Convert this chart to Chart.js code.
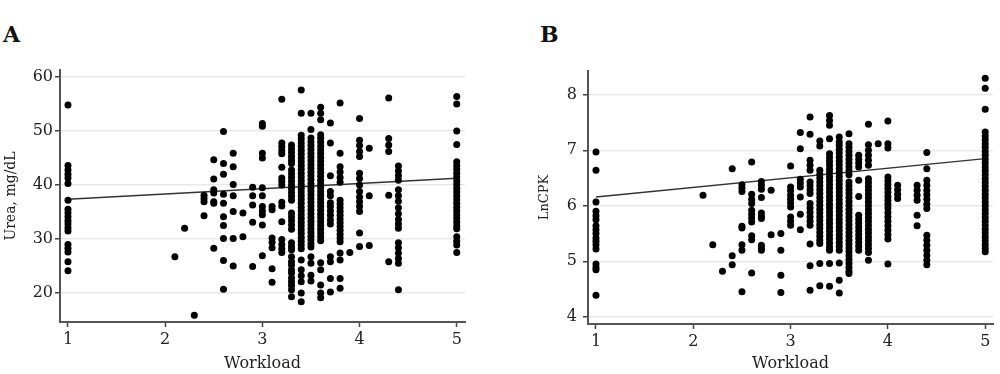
<!DOCTYPE html>
<html>
<head>
<meta charset="utf-8">
<script src="https://cdn.jsdelivr.net/npm/chart.js@4.4.0/dist/chart.umd.min.js"></script>
<style>
    body { margin: 0; background: #fff; width: 1000px; height: 374px; position: relative; overflow: hidden; }
    canvas { position: absolute; top: 0; }
    .panel-label { position: absolute; font-family: "DejaVu Serif", serif; font-weight: bold; font-size: 22px; color: #111; }
</style>
</head>
<body>
<div class="panel-label" style="left:3px; top:21px;">A</div>
<div class="panel-label" style="left:540px; top:21px;">B</div>
<canvas id="chartA" width="500" height="374" style="left:0"></canvas>
<canvas id="chartB" width="500" height="374" style="left:500px"></canvas>
<script>
// workload levels (x), shared by both panels
const workloadLevels = [1, 2.1, 2.2, 2.3, 2.4, 2.5, 2.6, 2.7, 2.8, 2.9, 3, 3.1, 3.2, 3.3, 3.4, 3.5, 3.6, 3.7, 3.8, 3.9, 4, 4.1, 4.3, 4.4, 5];
const workloadTicks = [1, 2, 3, 4, 5];

// panel A: urea (mg/dL) per workload level
const ureaByLevel = [
    [54.8, 43.6, 42.8, 42.0, 41.3, 40.3, 37.2, 35.5, 34.8, 34.1, 33.4, 32.8, 32.1, 31.5, 29.0, 28.3, 27.6, 25.8, 24.1],
    [26.7],
    [32.0],
    [15.9],
    [38.1, 37.5, 36.9, 34.3],
    [44.7, 41.1, 39.1, 38.5, 36.9, 36.6, 28.3],
    [49.9, 44.0, 42.0, 38.3, 36.6, 34.1, 32.5, 30.1, 26.0, 20.7],
    [45.9, 43.4, 40.1, 38.0, 35.1, 30.1, 25.0],
    [34.8, 30.4],
    [39.6, 38.0, 36.3, 33.1, 24.9],
    [51.4, 50.9, 45.9, 45.0, 39.5, 38.0, 36.0, 35.2, 34.5, 32.6, 26.9],
    [36.0, 35.4, 30.2, 29.4, 28.4, 24.5, 22.0],
    [55.9, 47.8, 47.1, 46.4, 45.8, 43.3, 41.3, 40.7, 40.0, 36.8, 36.1, 33.2, 29.9, 29.0, 28.2, 27.5],
    [47.4, 46.7, 46.0, 45.3, 44.6, 44.0, 42.8, 42.1, 41.4, 40.7, 40.0, 39.3, 38.6, 37.9, 37.2, 34.8, 34.1, 33.4, 32.6, 31.8, 29.3, 28.6, 28.0, 26.7, 25.8, 25.2, 24.3, 23.7, 22.8, 22.1, 21.4, 20.6, 19.3],
    [57.6, 53.3, 49.2, 48.5, 47.8, 47.1, 46.4, 45.7, 45.0, 44.3, 43.6, 42.9, 42.2, 41.5, 40.8, 40.1, 39.4, 38.7, 38.0, 37.3, 36.6, 35.9, 35.2, 34.5, 33.8, 33.1, 32.4, 31.7, 31.0, 30.3, 29.6, 28.9, 28.2, 26.1, 24.3, 23.2, 22.1, 20.0, 18.4],
    [53.3, 50.3, 48.7, 48.0, 47.3, 46.6, 45.9, 45.2, 44.5, 43.8, 43.1, 42.4, 41.7, 41.0, 40.3, 39.6, 38.9, 38.2, 37.5, 36.8, 36.1, 35.4, 34.7, 34.0, 33.3, 32.6, 31.9, 31.2, 30.5, 29.8, 29.1, 28.5, 26.7, 25.5, 23.3, 22.2],
    [54.4, 53.3, 52.1, 49.3, 48.6, 47.9, 47.2, 46.5, 45.8, 45.1, 44.4, 43.7, 43.0, 42.3, 41.6, 40.9, 40.2, 39.5, 38.8, 38.1, 37.4, 36.7, 36.0, 35.3, 34.6, 33.9, 33.2, 32.5, 31.8, 31.1, 30.4, 29.7, 25.6, 24.3, 21.5, 20.0, 19.1],
    [51.5, 47.8, 41.7, 38.8, 38.0, 36.7, 36.0, 35.2, 34.4, 33.5, 32.8, 26.7, 25.8, 22.7, 20.2],
    [55.2, 45.9, 43.4, 42.4, 41.4, 40.5, 37.2, 36.5, 35.8, 35.1, 34.4, 33.7, 33.0, 32.3, 31.6, 30.9, 30.2, 29.5, 27.4, 26.1, 22.7, 20.9],
    [27.5],
    [52.3, 48.3, 47.3, 46.2, 45.3, 42.2, 41.2, 40.0, 38.8, 37.8, 36.9, 36.0, 35.1, 31.1, 28.6],
    [46.8, 38.0, 28.8],
    [56.1, 48.6, 47.4, 46.2, 38.1, 25.8],
    [43.5, 42.6, 41.7, 40.9, 39.1, 38.0, 37.0, 35.8, 34.7, 33.6, 32.8, 32.0, 29.3, 28.4, 27.4, 26.4, 25.5, 20.6],
    [56.4, 55.0, 50.0, 47.5, 44.3, 43.6, 42.9, 42.2, 41.5, 40.8, 40.1, 39.4, 38.7, 38.0, 37.3, 36.6, 35.9, 35.2, 34.5, 33.8, 33.1, 32.4, 31.9, 30.4, 29.6, 28.9, 27.5]
];
const ureaTicks = [20, 30, 40, 50, 60];
const ureaFit = [37.35, 41.24]; // regression line at workload 1 and 5

// panel B: ln(CPK) per workload level
const lncpkByLevel = [
    [6.97, 6.64, 6.07, 5.90, 5.82, 5.75, 5.64, 5.57, 5.50, 5.42, 5.36, 5.30, 5.22, 4.95, 4.89, 4.85, 4.39],
    [6.19],
    [5.30],
    [4.82],
    [6.67, 5.10, 4.94],
    [6.38, 6.32, 6.26, 5.63, 5.60, 5.30, 5.20, 4.45],
    [6.79, 6.21, 6.12, 6.04, 5.92, 5.85, 5.78, 5.71, 5.46, 5.39, 4.79],
    [6.44, 6.37, 6.30, 6.15, 5.87, 5.81, 5.77, 5.29, 5.24, 5.20],
    [6.28, 5.48],
    [5.50, 5.20, 4.75, 4.44],
    [6.72, 6.34, 6.27, 6.19, 6.12, 6.05, 5.98, 5.80, 5.72, 5.65],
    [7.32, 7.03, 6.48, 6.41, 6.34, 6.16, 5.85, 5.57],
    [7.60, 7.29, 6.82, 6.73, 6.64, 6.43, 6.36, 6.29, 6.22, 6.04, 5.96, 5.88, 5.80, 5.72, 5.65, 5.31, 4.92, 4.48],
    [7.17, 7.08, 6.64, 6.57, 6.50, 6.43, 6.36, 6.29, 6.22, 6.15, 6.08, 6.01, 5.94, 5.87, 5.80, 5.73, 5.66, 5.59, 5.52, 5.45, 5.38, 5.32, 4.96, 4.56],
    [7.63, 7.54, 7.45, 7.21, 6.94, 6.87, 6.80, 6.73, 6.66, 6.59, 6.52, 6.45, 6.38, 6.31, 6.24, 6.17, 6.10, 6.03, 5.96, 5.89, 5.82, 5.75, 5.68, 5.61, 5.54, 5.47, 5.40, 5.33, 5.26, 5.20, 4.96, 4.55],
    [7.24, 7.15, 7.09, 7.02, 6.95, 6.88, 6.81, 6.74, 6.67, 6.60, 6.53, 6.46, 6.39, 6.32, 6.25, 6.18, 6.11, 6.04, 5.97, 5.90, 5.83, 5.76, 5.69, 5.62, 5.55, 5.48, 5.41, 5.34, 5.27, 5.20, 4.97, 4.66, 4.43],
    [7.30, 7.12, 7.05, 6.98, 6.91, 6.84, 6.77, 6.70, 6.63, 6.56, 6.43, 6.36, 6.29, 6.22, 6.15, 6.08, 6.01, 5.94, 5.87, 5.80, 5.73, 5.66, 5.59, 5.52, 5.45, 5.38, 5.31, 5.24, 5.17, 5.10, 5.03, 4.96, 4.89, 4.82, 4.78],
    [6.91, 6.84, 6.77, 6.70, 6.46, 6.17, 5.83, 5.76, 5.69, 5.62, 5.55, 5.48, 5.41, 5.34, 5.27, 5.20],
    [7.47, 7.10, 7.00, 6.91, 6.82, 6.73, 6.49, 6.42, 6.35, 6.28, 6.21, 6.14, 6.07, 6.00, 5.93, 5.86, 5.79, 5.72, 5.65, 5.58, 5.51, 5.44, 5.37, 5.30, 5.23, 5.16, 5.02],
    [7.12],
    [7.53, 7.12, 7.04, 6.52, 6.45, 6.38, 6.31, 6.24, 6.17, 6.10, 6.03, 5.96, 5.88, 5.80, 5.72, 5.64, 5.56, 5.48, 5.40, 4.95],
    [6.37, 6.29, 6.21, 6.13],
    [6.37, 6.28, 6.19, 6.10, 5.83, 5.64],
    [6.96, 6.67, 6.46, 6.37, 6.28, 6.20, 6.12, 6.03, 5.95, 5.47, 5.38, 5.29, 5.20, 5.11, 5.02, 4.94],
    [8.30, 8.12, 7.74, 7.33, 7.26, 7.19, 7.12, 7.05, 6.98, 6.91, 6.84, 6.77, 6.70, 6.63, 6.56, 6.49, 6.42, 6.35, 6.28, 6.21, 6.14, 6.07, 6.00, 5.93, 5.86, 5.79, 5.72, 5.65, 5.58, 5.51, 5.44, 5.37, 5.30, 5.23, 5.17]
];
const lncpkTicks = [4, 5, 6, 7, 8];
const lncpkFit = [6.16, 6.85];

const fitX = [1, 5];
const serif = 'DejaVu Serif';

function toPoints(byLevel) {
    const pts = [];
    for (let i = 0; i < workloadLevels.length; i++) {
        byLevel[i].forEach((v) => pts.push({ x: workloadLevels[i], y: v }));
    }
    return pts;
}

function createPanel(id, byLevel, fit, yTicks, cfg) {
    const ctx = document.getElementById(id);
    new Chart(ctx, {
        type: 'scatter',
        data: {
            datasets: [{
                data: toPoints(byLevel),
                backgroundColor: '#000',
                borderWidth: 0,
                pointRadius: 3.5,
                pointHoverRadius: 3.5
            }, {
                data: fitX.map((x, i) => ({ x: x, y: fit[i] })),
                showLine: true,
                borderColor: '#333',
                borderWidth: 1.4,
                pointRadius: 0
            }]
        },
        options: {
            responsive: false,
            animation: false,
            devicePixelRatio: 1,
            layout: { padding: cfg.padding },
            plugins: { legend: { display: false }, tooltip: { enabled: false } },
            scales: {
                x: {
                    type: 'linear',
                    min: cfg.xMin,
                    max: cfg.xMax,
                    afterBuildTicks: (s) => { s.ticks = workloadTicks.map((v) => ({ value: v })); },
                    afterFit: (s) => { s.height = cfg.xAxisHeight; },
                    grid: { drawOnChartArea: false, drawTicks: true, tickLength: 5, tickColor: '#444', tickWidth: 1.5 },
                    border: { display: true, color: '#555', width: 2 },
                    ticks: { color: '#222', font: { family: serif, size: 16 }, padding: 3, maxRotation: 0 },
                    title: { display: true, text: 'Workload', color: '#222', font: { family: serif, size: 16 }, padding: { top: 0, bottom: 1 } }
                },
                y: {
                    type: 'linear',
                    min: cfg.yMin,
                    max: cfg.yMax,
                    afterBuildTicks: (s) => { s.ticks = yTicks.map((v) => ({ value: v })); },
                    afterFit: (s) => { s.width = cfg.yAxisWidth; },
                    grid: { color: '#e9e9e9', lineWidth: 1.5, tickLength: 5, tickColor: '#444', tickWidth: 1.5 },
                    border: { display: true, color: '#555', width: 2 },
                    ticks: { color: '#222', font: { family: serif, size: 16 }, padding: cfg.tickPad },
                    title: { display: true, text: cfg.yTitle, color: '#222', font: { family: serif, size: cfg.yTitleSize }, padding: { top: cfg.yTitlePad, bottom: 0 } }
                }
            }
        }
    });
}

createPanel('chartA', ureaByLevel, ureaFit, ureaTicks, {
    padding: { top: 70, right: 35, bottom: 0, left: 0 },
    xMin: 0.918, xMax: 5.085, xAxisHeight: 52,
    yMin: 14.63, yMax: 61.3, yAxisWidth: 60,
    tickPad: 2, yTitle: 'Urea, mg/dL', yTitleSize: 14, yTitlePad: 3
});

createPanel('chartB', lncpkByLevel, lncpkFit, lncpkTicks, {
    padding: { top: 71, right: 7, bottom: 0, left: 30 },
    xMin: 0.918, xMax: 5.08, xAxisHeight: 50,
    yMin: 3.87, yMax: 8.43, yAxisWidth: 58,
    tickPad: 6, yTitle: 'LnCPK', yTitleSize: 13, yTitlePad: 7
});
</script>
</body>
</html>
